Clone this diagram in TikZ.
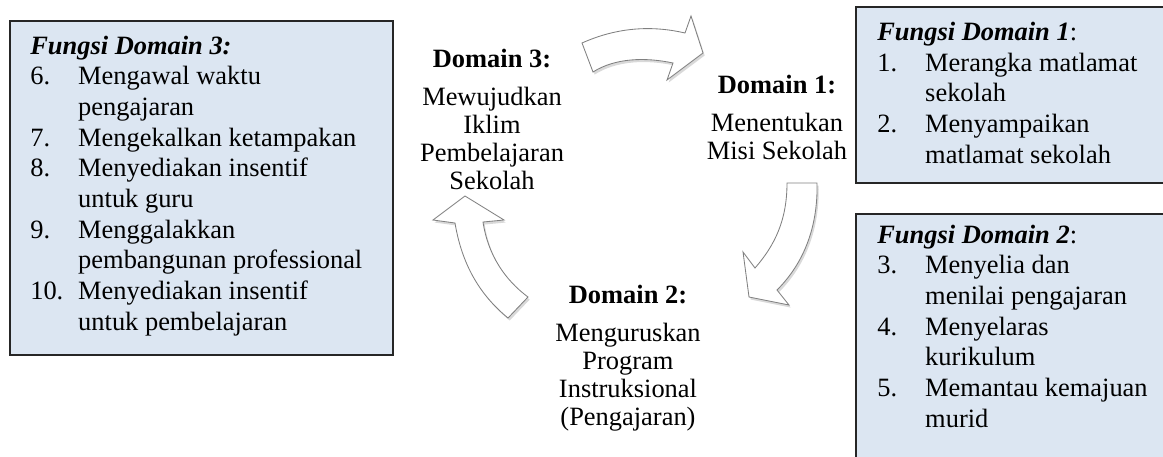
\documentclass[tikz,border=0pt]{standalone}
\usepackage{fontspec}
\setmainfont{Liberation Serif}
\usetikzlibrary{shadows}
\definecolor{boxblue}{HTML}{DCE6F2}
\newcommand{\itemno}[1]{\makebox[34.1pt][l]{#1}}
\newcommand{\itemgap}{\hspace*{34.1pt}}

\begin{document}
\begin{tikzpicture}[x=0.025cm, y=-0.025cm,
  fbox/.style={draw=black!85, line width=1.2pt, fill=boxblue},
  fntext/.style={anchor=base west, inner sep=0pt, align=left, font=\fontsize{18.8}{21.8}\selectfont},
  domtext/.style={anchor=base, inner sep=0pt, align=center, font=\fontsize{18.8}{19.7}\selectfont},
  blockarrow/.style={draw=black!50, fill=white, line width=0.6pt,
    drop shadow={shadow xshift=1.2pt, shadow yshift=-1.8pt, opacity=0.3}}]
\clip (0,0) rectangle (1163,456);

% function boxes (text nodes sit on the baseline of their last line)
\draw[fbox] (10,21) rectangle (393,355);
\draw[fbox] (856,7) rectangle (1175,183);
\draw[fbox] (856,214) rectangle (1175,470);

\node[fntext] (fn3) at (30,330) {\textbf{\textit{Fungsi Domain 3:}}\\
  \itemno{6.}Mengawal waktu\\ \itemgap pengajaran\\
  \itemno{7.}Mengekalkan ketampakan\\
  \itemno{8.}Menyediakan insentif\\ \itemgap untuk guru\\
  \itemno{9.}Menggalakkan\\ \itemgap pembangunan professional\\
  \itemno{10.}Menyediakan insentif\\ \itemgap untuk pembelajaran};
\node[fntext] (fn1) at (877,163) {\textbf{\textit{Fungsi Domain 1}}:\\
  \itemno{1.}Merangka matlamat\\ \itemgap sekolah\\
  \itemno{2.}Menyampaikan\\ \itemgap matlamat sekolah};
\node[fntext] (fn2) at (877,427) {\textbf{\textit{Fungsi Domain 2}}:\\
  \itemno{3.}Menyelia dan\\ \itemgap menilai pengajaran\\
  \itemno{4.}Menyelaras\\ \itemgap kurikulum\\
  \itemno{5.}Memantau kemajuan\\ \itemgap murid};

% domains
\node[domtext] (dom3) at (492,189) {\textbf{Domain 3:}\\[7.3pt] Mewujudkan\\ Iklim\\ Pembelajaran\\ Sekolah};
\node[domtext] (dom1) at (777,159) {\textbf{Domain 1:}\\[7.3pt] Menentukan\\ Misi Sekolah};
\node[domtext] (dom2) at (628,425) {\textbf{Domain 2:}\\[7.3pt] Menguruskan\\ Program\\ Instruksional\\ (Pengajaran)};

% cycle arrows
\draw[blockarrow] (582,43) .. controls (620,26) and (655,26) .. (685,33) -- (691,16) -- (703,53)
  -- (667,80) -- (673,63) .. controls (645,57) and (615,58) .. (593,72) -- cycle;
\draw[blockarrow] (787,183) -- (817,183) .. controls (818,225) and (805,262) .. (777,290) -- (789,305)
  -- (749,297) -- (743,252) -- (755,268) .. controls (775,245) and (787,220) .. (787,183) -- cycle;
\draw[blockarrow] (508,318) -- (528,297) .. controls (505,280) and (488,255) .. (483,222) -- (504,220)
  -- (465,196) -- (433,220) -- (455,223) .. controls (462,265) and (480,295) .. (508,318) -- cycle;
\end{tikzpicture}
\end{document}
